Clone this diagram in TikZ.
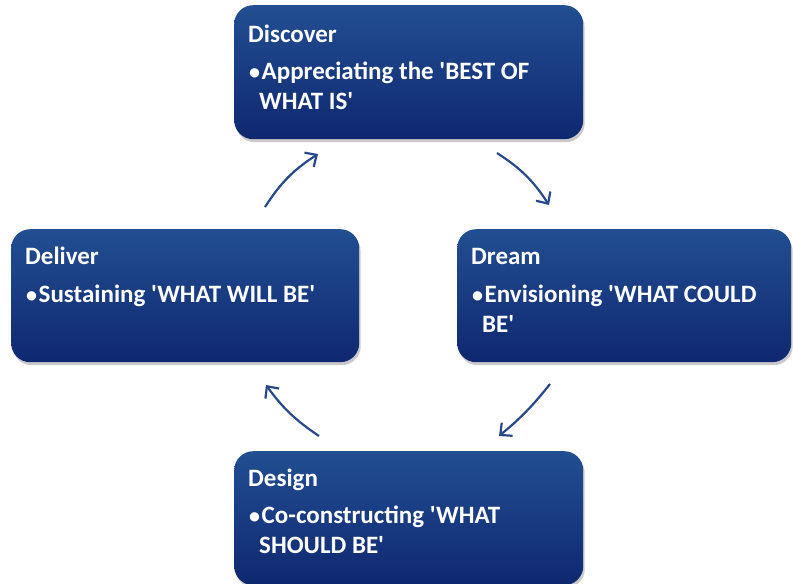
\documentclass[tikz,border=0pt]{standalone}
\usepackage{fontspec}
\newfontfamily\calib{Carlito}[BoldFont={* Bold}]
\usetikzlibrary{arrows.meta,shadows}
\definecolor{boxtop}{RGB}{34,78,146}
\definecolor{boxbot}{RGB}{15,40,112}
\definecolor{arrowblue}{RGB}{40,72,140}
\tikzset{
  phase/.style={rectangle, rounded corners=19pt, inner sep=0pt,
    top color=boxtop, bottom color=boxbot, draw=none,
    drop shadow={shadow xshift=1.5pt, shadow yshift=-3pt, opacity=0.35, fill=black!60}},
  ptitle/.style={anchor=base west, inner sep=0pt, text=white, font=\calib\bfseries\fontsize{25}{30}\selectfont},
  pbody/.style={anchor=base west, inner sep=0pt, text=white, align=left, font=\calib\bfseries\fontsize{25}{30}\selectfont},
  cyc/.style={draw=arrowblue, line width=2.2pt, -{Straight Barb[length=9pt,width=17pt,line width=2.2pt]}}
}
\newcommand{\bul}{\makebox[12.5pt][l]{\fontsize{22}{22}\selectfont\textbullet}}
\begin{document}
\begin{tikzpicture}[x=1pt,y=-1pt]
\useasboundingbox (0,0) rectangle (793,584);
% boxes
\node[phase, minimum width=349pt, minimum height=134pt, anchor=north west] (disc) at (234,5) {};
\node[phase, minimum width=334pt, minimum height=133pt, anchor=north west] (dream) at (457,229) {};
\node[phase, minimum width=348pt, minimum height=133pt, anchor=north west] (deliv) at (11,229) {};
\node[phase, minimum width=349pt, minimum height=134pt, anchor=north west] (design) at (234,451) {};
% texts
\node[ptitle] (discT) at (248,42) {Discover};
\node[pbody] (discB) at (249,109) {\bul Appreciating the 'BEST OF\\\hspace*{10pt}WHAT IS'};
\node[ptitle] (dreamT) at (471,264) {Dream};
\node[pbody] (dreamB) at (472,332) {\bul Envisioning 'WHAT COULD\\\hspace*{10pt}BE'};
\node[ptitle] (delivT) at (25,264) {Deliver};
\node[pbody] (delivB) at (26,302) {\bul Sustaining 'WHAT WILL BE'};
\node[ptitle] (designT) at (248,486) {Design};
\node[pbody] (designB) at (249,553) {\bul Co-constructing 'WHAT\\\hspace*{10pt}SHOULD BE'};
% arrow end points
\coordinate (a1s) at (265,207); \coordinate (a1e) at (318,154);
\coordinate (a2s) at (497,153); \coordinate (a2e) at (549,205);
\coordinate (a3s) at (550,384); \coordinate (a3e) at (499,436);
\coordinate (a4s) at (319,436); \coordinate (a4e) at (266,385);
\draw[cyc] (a1s) to[bend left=12] (a1e);
\draw[cyc] (a2s) to[bend left=12] (a2e);
\draw[cyc] (a3s) to[bend left=6] (a3e);
\draw[cyc] (a4s) to[bend left=10] (a4e);
\end{tikzpicture}
\end{document}
